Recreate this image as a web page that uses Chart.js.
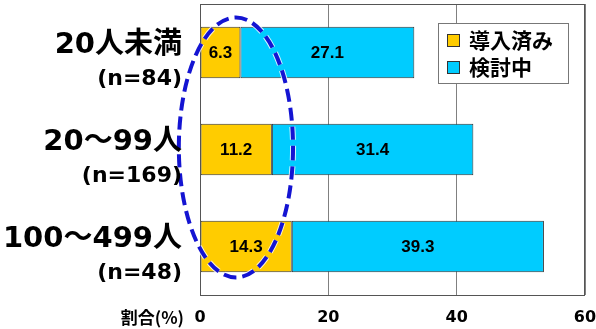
<!DOCTYPE html>
<html>
<head>
<meta charset="utf-8">
<script src="https://cdn.jsdelivr.net/npm/chart.js@4"></script>
<style>
  html, body { margin: 0; padding: 0; background: #fff; }
  #wrap { width: 596px; height: 329px; }
</style>
</head>
<body>
<div id="wrap"><canvas id="chart" width="596" height="329"></canvas></div>
<script>
// Chart data
const categories = ['20人未満', '20～99人', '100～499人'];
const sampleSizes = ['(n=84)', '(n=169)', '(n=48)'];
const seriesNames = ['導入済み', '検討中'];
const adopted = [6.3, 11.2, 14.3];
const considering = [27.1, 31.4, 39.3];
const xTicks = [0, 20, 40, 60];
const xTitle = '割合(%)';

const GOLD = '#FFCC00';
const CYAN = '#00CCFF';
const JP = "'Noto Sans CJK JP', sans-serif";
const LABEL_FONT = "'DejaVu Sans', 'Noto Sans CJK JP', sans-serif";

// Category labels (two lines, different sizes)
const categoryLabels = {
    id: 'categoryLabels',
    afterDraw(chart) {
        const ctx = chart.ctx;
        const y = chart.scales.y;
        const right = chart.chartArea.left - 18;
        ctx.save();
        ctx.fillStyle = '#000';
        ctx.textAlign = 'right';
        ctx.textBaseline = 'middle';
        categories.forEach((c, i) => {
            const cy = y.getPixelForValue(i);
            ctx.font = "bold 29px " + LABEL_FONT;
            ctx.fillText(c, right, cy - 7);
            ctx.font = "bold 22px " + LABEL_FONT;
            ctx.fillText(sampleSizes[i], right, cy + 27);
        });
        // axis title next to "0"
        ctx.font = "bold 17px " + JP;
        ctx.fillText(xTitle, chart.chartArea.left - 16, chart.chartArea.bottom + 23);
        ctx.restore();
    }
};

// Frame, values in bars, legend box and the dashed ellipse
const decorations = {
    id: 'decorations',
    afterDatasetsDraw(chart) {
        const ctx = chart.ctx;
        const a = chart.chartArea;
        ctx.save();
        ctx.strokeStyle = '#555';
        ctx.lineWidth = 1;
        ctx.strokeRect(a.left + 0.5, a.top + 0.5, a.right - a.left - 1, a.bottom - a.top);

        // values
        ctx.fillStyle = '#000';
        ctx.font = "bold 17px 'Liberation Sans', Arial, sans-serif";
        ctx.textAlign = 'center';
        ctx.textBaseline = 'middle';
        chart.data.datasets.forEach((ds, di) => {
            chart.getDatasetMeta(di).data.forEach((bar, i) => {
                const p = bar.getProps(['x', 'y', 'base'], true);
                ctx.fillText(ds.data[i].toFixed(1), (p.x + p.base) / 2, p.y + 1);
            });
        });

        // legend
        const lx = a.right - 147, ly = a.top + 19, lw = 130, lh = 60;
        ctx.fillStyle = '#fff';
        ctx.fillRect(lx, ly, lw, lh);
        ctx.strokeStyle = '#777';
        ctx.strokeRect(lx + 0.5, ly + 0.5, lw, lh);
        ctx.textAlign = 'left';
        ctx.font = "bold 21px " + JP;
        chart.data.datasets.forEach((ds, di) => {
            const ry = ly + 17 + di * 27;
            ctx.fillStyle = ds.backgroundColor;
            ctx.fillRect(lx + 9, ry - 6, 12, 12);
            ctx.strokeStyle = '#333';
            ctx.strokeRect(lx + 9.5, ry - 5.5, 12, 12);
            ctx.fillStyle = '#000';
            ctx.fillText(ds.label, lx + 31, ry);
        });

        // dashed ellipse highlighting the adopted share
        const x = chart.scales.x, y = chart.scales.y;
        const cx = x.getPixelForValue(5.6);
        const cy = y.getPixelForValue(1) - 2;
        const rx = x.getPixelForValue(8.9) - x.getPixelForValue(0);
        const ry = (y.getPixelForValue(2) - y.getPixelForValue(0)) * 0.67;
        ctx.beginPath();
        ctx.ellipse(cx, cy, rx, ry, 0, 0, Math.PI * 2);
        ctx.setLineDash([13, 6]);
        ctx.lineWidth = 6;
        ctx.strokeStyle = 'rgba(255,255,255,0.8)';
        ctx.stroke();
        ctx.lineWidth = 4;
        ctx.strokeStyle = '#1414D2';
        ctx.stroke();
        ctx.restore();
    }
};

new Chart(document.getElementById('chart'), {
    type: 'bar',
    data: {
        labels: categories,
        datasets: [
            { label: seriesNames[0], data: adopted, backgroundColor: GOLD },
            { label: seriesNames[1], data: considering, backgroundColor: CYAN }
        ].map(ds => Object.assign(ds, {
            borderColor: '#333',
            borderWidth: 1,
            borderSkipped: false,
            barPercentage: 0.53,
            categoryPercentage: 1
        }))
    },
    options: {
        indexAxis: 'y',
        responsive: false,
        animation: false,
        layout: { padding: { left: 200, right: 11, top: 4, bottom: 0 } },
        plugins: { legend: { display: false }, tooltip: { enabled: false } },
        scales: {
            x: {
                stacked: true,
                min: 0,
                max: 60,
                afterBuildTicks: (s) => { s.ticks = xTicks.map(v => ({ value: v })); },
                grid: { color: '#808080', drawTicks: false, lineWidth: 1 },
                border: { display: false },
                ticks: {
                    color: '#000',
                    padding: 13,
                    font: { family: "'DejaVu Sans', sans-serif", size: 16, weight: 'bold' }
                },
                afterFit: (s) => {
                    s.height = 34;
                    s.paddingLeft = 0;
                    s.paddingRight = 0;
                }
            },
            y: {
                stacked: true,
                display: false
            }
        }
    },
    plugins: [categoryLabels, decorations]
});
</script>
</body>
</html>
